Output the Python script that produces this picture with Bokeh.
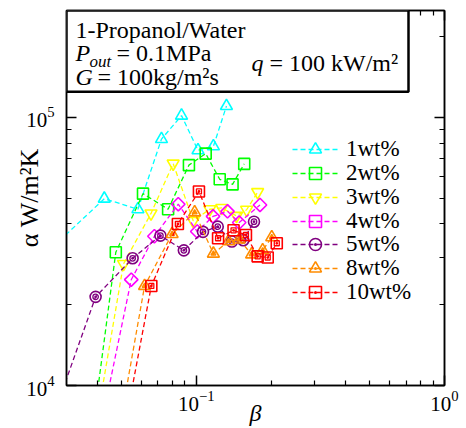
import numpy as np
from bokeh.plotting import figure
from bokeh.models import (Range1d, FixedTicker, LogAxis, BoxAnnotation, Label,
                          Legend, LegendItem)
from bokeh.embed import file_html
from bokeh.resources import INLINE

# ---------------- data ----------------
labels = ["1wt%", "2wt%", "3wt%", "4wt%", "5wt%", "8wt%", "10wt%"]
colors = ["#00ffff", "#00ff00", "#ffff00", "#ff00ff", "#800080", "#ff8c00", "#ff0000"]

beta_1 = [0.0253, 0.0426, 0.0582, 0.0724, 0.0872, 0.1016, 0.1172, 0.1323]
alpha_1 = [31600, 49700, 45400, 82900, 101400, 75300, 77900, 110100]

beta_2 = [0.0397, 0.0474, 0.0610, 0.0770, 0.0934, 0.1091, 0.1243, 0.140, 0.156]
alpha_2 = [9000, 31400, 51900, 45400, 66300, 73200, 58700, 56200, 67000]

beta_3 = [0.0412, 0.0509, 0.0657, 0.0807, 0.0972, 0.1133, 0.1267, 0.1452, 0.1595, 0.1767]
alpha_3 = [9000, 28400, 43800, 67200, 41100, 45400, 45900, 42900, 45200, 52600]

beta_4 = [0.0436, 0.0547, 0.0678, 0.0846, 0.1009, 0.1168, 0.1336, 0.1489, 0.1806]
alpha_4 = [9000, 24800, 36000, 47400, 37500, 42700, 44600, 40500, 47100]

beta_5 = [0.0282, 0.0393, 0.0554, 0.0717, 0.0891, 0.1064, 0.122, 0.1391, 0.1546, 0.1708]
alpha_5 = [9000, 21400, 29800, 36200, 31900, 37400, 39100, 34400, 34800, 40800]

beta_8 = [0.0515, 0.0619, 0.0799, 0.0985, 0.1172, 0.1348, 0.1489, 0.1671, 0.1851, 0.2014]
alpha_8 = [9000, 23500, 36700, 44200, 31000, 34500, 35000, 30800, 31900, 35700]

beta_10 = [0.0542, 0.0659, 0.0843, 0.1025, 0.1224, 0.1413, 0.1585, 0.1767, 0.194, 0.211]
alpha_10 = [9000, 23500, 40000, 52900, 35400, 37900, 36400, 30300, 30000, 33900]

x_major = [0.1, 1.0]
x_minor = [0.04, 0.05, 0.06, 0.07, 0.08, 0.09, 0.2, 0.3, 0.4, 0.5, 0.6, 0.7, 0.8, 0.9]
y_major = [1e4, 1e5]
y_minor = [2e4, 3e4, 4e4, 5e4, 6e4, 7e4, 8e4, 9e4, 2e5]

XMIN, XMAX, YMIN, YMAX = 0.03, 1.0, 1e4, 2.5e5

# ---------------- layout ----------------
W, H = 466, 428
BL, BR, BT, BB = 66, 22, 10, 40
FW, FH = W - BL - BR, H - BT - BB


def X(px):
    lo, hi = np.log10(XMIN), np.log10(XMAX)
    return float(10 ** (lo + (px - BL) * (hi - lo) / FW))


def Y(py):
    lo, hi = np.log10(YMIN), np.log10(YMAX)
    return float(10 ** (lo + (BT + FH - py) * (hi - lo) / FH))


p = figure(width=W, height=H, x_axis_type="log", y_axis_type="log",
           x_range=Range1d(XMIN, XMAX), y_range=Range1d(YMIN, YMAX),
           output_backend="svg", toolbar_location=None,
           min_border_left=BL, min_border_right=BR,
           min_border_top=BT, min_border_bottom=BB)
p.grid.visible = False
p.outline_line_color = "black"
p.outline_line_width = 1.5
p.background_fill_color = "white"
p.border_fill_color = "white"

FONT = "Liberation Serif, serif"


def style_axis(ax, ticks, minor, show_labels=True):
    ax.ticker = FixedTicker(ticks=ticks, minor_ticks=minor)
    ax.axis_line_color = "black"
    ax.axis_line_width = 1.5
    ax.major_tick_in = 10
    ax.major_tick_out = 0
    ax.minor_tick_in = 5
    ax.minor_tick_out = 0
    ax.major_tick_line_width = 1.5
    ax.minor_tick_line_width = 1.2
    ax.major_tick_line_color = "black"
    ax.minor_tick_line_color = "black"
    ax.major_label_text_font = FONT
    ax.axis_label_text_font = FONT
    ax.axis_label_text_color = "black"
    if show_labels:
        ax.major_label_text_font_size = "21px"
        ax.major_label_text_color = "black"
    else:
        ax.major_label_text_font_size = "1px"
        ax.major_label_text_alpha = 0
        ax.major_label_standoff = 0


xa = p.xaxis[0]
style_axis(xa, x_major, x_minor)
xa.major_label_standoff = 5
xa.axis_label = "β"
xa.axis_label_text_font_style = "italic"
xa.axis_label_text_font_size = "24px"
xa.axis_label_standoff = -14

ya = p.yaxis[0]
style_axis(ya, y_major, y_minor)
ya.major_label_standoff = 12
ya.axis_label = "α W/m²K"
ya.axis_label_text_font_style = "normal"
ya.axis_label_text_font_size = "26px"
ya.axis_label_standoff = -21

top_ax = LogAxis()
style_axis(top_ax, x_major, x_minor, show_labels=False)
p.add_layout(top_ax, "above")
right_ax = LogAxis()
style_axis(right_ax, y_major, y_minor, show_labels=False)
p.add_layout(right_ax, "right")

# ---------------- series ----------------
# (x, y, outer marker, size, inner marker or None, angle)
series = [
    (beta_1, alpha_1, "triangle", 12, None, 0.0),
    (beta_2, alpha_2, "square", 11, None, 0.0),
    (beta_3, alpha_3, "inverted_triangle", 12, None, 0.0),
    (beta_4, alpha_4, "square", 9.5, None, float(np.pi / 4)),
    (beta_5, alpha_5, "circle_dot", 11, ("circle", 5.5), 0.0),
    (beta_8, alpha_8, "triangle_dot", 12, ("triangle", 5), 0.0),
    (beta_10, alpha_10, "square_dot", 11, ("square", 5), 0.0),
]

legend_items = []
for (bx, ay, mk, sz, inner, ang), lab_txt, col in zip(series, labels, colors):
    r_line = p.line(bx, ay, line_color=col, line_width=1.3, line_dash="5 3")
    r_m = p.scatter(bx, ay, marker=mk, size=sz, angle=ang, line_color=col,
                    fill_color=col, fill_alpha=0, line_width=1.6)
    if inner is not None:
        p.scatter(bx, ay, marker=inner[0], size=inner[1], line_color=col,
                  line_width=1.3, fill_alpha=0)
    legend_items.append(LegendItem(label=lab_txt, renderers=[r_line, r_m]))

# one legend per row so that row pitch matches the reference exactly
ROW0, PITCH, GH = 152.3, 23.8, 30
for i, it in enumerate(legend_items):
    center = ROW0 + i * PITCH
    lg = Legend(items=[it], location=(226, int(round(BT + FH - (center + GH / 2)))),
                orientation="vertical",
                glyph_width=46, glyph_height=GH, label_height=GH,
                label_standoff=8, spacing=0, padding=0, margin=0,
                border_line_alpha=0, background_fill_alpha=0,
                label_text_font=FONT, label_text_font_size="23px",
                label_text_color="black", label_text_baseline="middle")
    p.add_layout(lg, "center")

# ---------------- header box ----------------
box = BoxAnnotation(left=X(BL), right=X(408), top=Y(BT), bottom=Y(92),
                    fill_color="white", fill_alpha=1.0,
                    line_color="black", line_alpha=1.0, line_width=2.5)
p.add_layout(box)


def lab(px, py, text, size="24px", style="normal", align="left"):
    p.add_layout(Label(x=X(px), y=Y(py), text=text, text_font=FONT,
                       text_font_size=size, text_font_style=style,
                       text_align=align, text_baseline="middle",
                       text_color="black"))


lab(75, 30, "1-Propanol/Water")
lab(75, 53, "P", style="italic")
lab(89, 61, "out", size="17px", style="italic")
lab(116, 53, "= 0.1MPa")
lab(75, 77, "G", style="italic")
lab(97, 77, "= 100kg/m²s")
lab(251, 63, "q", style="italic")
lab(269, 63, "= 100 kW/m²")

open("out.html", "w").write(file_html(p, INLINE))
